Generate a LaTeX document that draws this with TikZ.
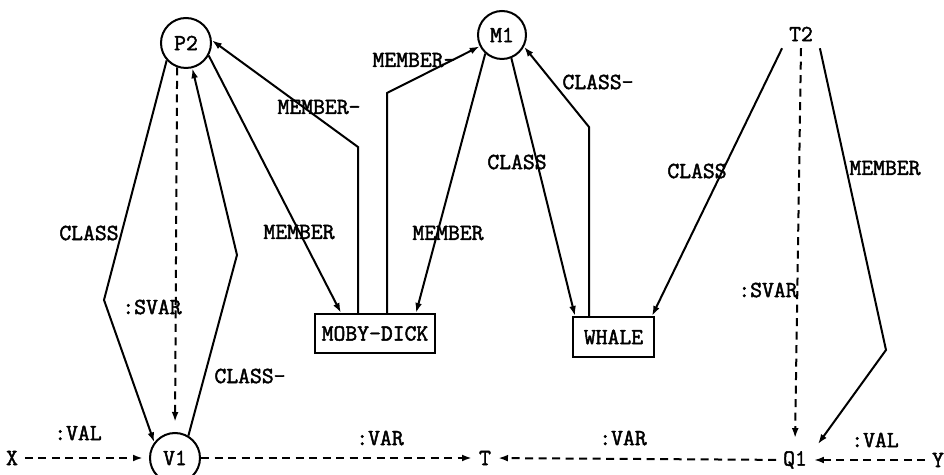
\documentclass[tikz,border=0pt]{standalone}
\usepackage{fontspec}
\setmonofont{Latin Modern Mono}[BoldFont={Latin Modern Mono}, BoldFeatures={FakeBold=2}]
\usetikzlibrary{arrows.meta}

\begin{document}
\begin{tikzpicture}[x=0.5pt, y=-0.5pt,
	every node/.style={font=\ttfamily\bfseries\fontsize{11.5}{13}\selectfont},
	link/.style={line width=1pt, -{Latex[length=5pt, width=3.4pt]}},
	svar/.style={link, dash pattern=on 4pt off 2.75pt},
	frame/.style={draw, line width=1pt, inner sep=0pt},
	ring/.style={circle, draw, line width=1pt, minimum size=25pt, inner sep=0pt}]
	\useasboundingbox (0,0) rectangle (944,475);
	
	% Nodes
	\node[ring] (p2) at (186,43) {P2};
	\node[ring, minimum size=24pt] (m1) at (502,35) {M1};
	\node (t2) at (801,34) {T2};
	\node[ring] (v1) at (175,458) {V1};
	\node (x) at (12,458) {X};
	\node (t) at (485,458) {T};
	\node (q1) at (795,460) {Q1};
	\node (y) at (938,460) {Y};
	\node[frame, minimum width=60pt, minimum height=19.5pt] (moby) at (375,333.5) {MOBY-DICK};
	\node[frame, minimum width=40.5pt, minimum height=20pt] (whale) at (613.5,337) {WHALE};
	
	% Bends
	\coordinate (b1) at (104,300);
	\coordinate (b2) at (237,255);
	\coordinate (b3) at (358,147);
	\coordinate (b4) at (387,93);
	\coordinate (b5) at (589,127);
	\coordinate (b6) at (886,350);
	
	% Directed edges
	\draw[link] (p2.222) -- (b1) -- (v1.143);
	\draw[svar, shorten >=5pt] (p2.250) -- (v1.north);
	\draw[link] (v1.59) -- (b2) -- (p2.284);
	\draw[link] (p2.331) -- ([xshift=13.5pt]moby.north west);
	\draw[link] (moby.north -| b3) -- (b3) -- (p2.6);
	\draw[link] (moby.north -| b4) -- (b4) -- (m1.207);
	\draw[link] (m1.228) -- ([xshift=-10pt]moby.north east);
	\draw[link] (m1.292) -- ([xshift=1.5pt]whale.north west);
	\draw[link] (whale.north -| b5) -- (b5) -- (m1.332);
	\draw[link] (t2.south west) -- ([xshift=-1.5pt]whale.north east);
	\draw[svar, shorten >=3pt] (t2.south) -- (q1.north);
	\draw[link] (t2.south east) -- (b6) -- ([xshift=2pt]q1.north east);
	\draw[svar, shorten >=3pt] (x) -- (v1);
	\draw[svar] (v1) -- (t);
	\draw[svar] (q1) -- (t);
	\draw[svar] (y) -- (q1);
	
	% Labels
	\node (lclassa) at (89,233) {CLASS};
	\node (lsvara) at (152,307) {:SVAR};
	\node (lclassb) at (250,376) {CLASS-};
	\node (lmembera) at (299,232) {MEMBER};
	\node (lmemberb) at (319,107) {MEMBER-};
	\node (lmemberc) at (414,60) {MEMBER-};
	\node (lmemberd) at (448,233) {MEMBER};
	\node (lclassc) at (517,162) {CLASS};
	\node (lclassd) at (598,82) {CLASS-};
	\node (lclasse) at (697,171) {CLASS};
	\node (lsvarb) at (768,290) {:SVAR};
	\node (lmembere) at (885,168) {MEMBER};
	\node (lvala) at (78,433) {:VAL};
	\node (lvara) at (380,438) {:VAR};
	\node (lvarb) at (623,438) {:VAR};
	\node (lvalb) at (875,440) {:VAL};
\end{tikzpicture}
\end{document}
